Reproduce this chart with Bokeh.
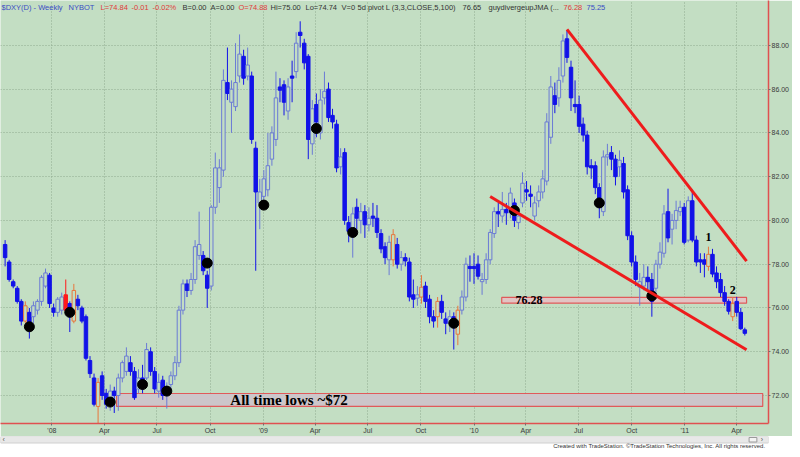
import pandas as pd
from bokeh.plotting import figure
from bokeh.layouts import column
from bokeh.models import FixedTicker, PrintfTickFormatter, Range1d, Label, ColumnDataSource
from bokeh.embed import file_html
from bokeh.resources import INLINE
from bokeh.core.properties import value

# ---------------- data (weekly $DXY) ----------------
first_week = "2007-10-12"
opens = [78.9, 78.1, 77.2, 76.9, 76.3, 75.4, 75.8, 75.6, 75.9, 76.3,
         77.0, 77.5, 76.0, 75.8, 75.9, 76.6, 76.2, 75.4, 76.4, 76.0,
         75.6, 73.6, 72.8, 71.5, 72.9, 72.1, 71.7, 72.2, 72.0, 72.8,
         73.1, 73.5, 73.1, 72.3, 72.8, 72.8, 74.0, 73.1, 72.2, 72.7,
         72.0, 72.5, 72.9, 73.5, 75.9, 77.1, 76.8, 77.3, 78.4, 78.4,
         77.5, 77.0, 80.6, 81.5, 82.3, 86.3, 85.4, 85.2, 86.6, 87.5,
         86.6, 86.6, 83.3, 80.8, 81.1, 81.4, 82.8, 83.7, 86.1, 86.2,
         85.0, 86.6, 86.8, 88.6, 88.1, 87.5, 83.5, 85.3, 84.0, 85.6,
         86.0, 84.8, 84.4, 82.45, 83.1, 79.9, 79.5, 80.6, 80.0, 80.4,
         79.8, 80.2, 80.1, 79.4, 78.8, 78.2, 78.2, 78.9, 78.0, 78.3,
         78.1, 76.6, 76.45, 76.5, 77.0, 76.4, 75.6, 75.6, 76.3, 75.5,
         75.3, 75.6, 74.8, 75.9, 76.5, 77.9, 77.9, 78.0, 77.2, 77.3,
         78.2, 79.4, 80.4, 80.2, 80.5, 80.35, 80.8, 79.9, 80.8, 81.4,
         81.2, 80.2, 80.9, 81.3, 81.8, 83.8, 85.7, 85.6, 86.6, 88.3,
         87.0, 85.3, 85.3, 84.4, 83.9, 82.5, 82.5, 81.5, 80.4, 82.9,
         83.1, 82.8, 82.45, 82.6, 81.4, 79.3, 78.1, 76.95, 77.0, 77.4,
         77.3, 76.9, 78.0, 78.5, 80.4, 79.6, 80.0, 80.4, 80.6, 79.1,
         80.9, 79.1, 78.2, 78.2, 77.9, 78.45, 77.6, 77.3, 76.7, 76.3,
         75.6, 76.3, 75.8, 75.0]
highs = [79.1, 78.2, 77.3, 77.0, 76.4, 76.3, 76.0, 76.3, 76.4, 77.5,
         77.8, 77.6, 76.2, 76.5, 76.7, 77.3, 76.3, 77.1, 76.6, 76.1,
         75.7, 73.8, 73.0, 72.8, 73.1, 72.3, 72.5, 72.4, 73.0, 73.6,
         74.2, 73.8, 73.3, 73.2, 73.4, 74.4, 74.2, 73.3, 73.0, 72.9,
         72.6, 73.1, 73.8, 76.1, 77.3, 77.3, 77.6, 79.1, 80.4, 78.6,
         77.7, 80.7, 83.1, 82.8, 86.9, 87.9, 86.4, 88.1, 88.5, 87.8,
         87.9, 86.8, 83.6, 81.9, 82.3, 84.0, 84.3, 86.8, 86.5, 86.4,
         86.5, 87.3, 88.6, 89.1, 88.3, 87.6, 85.5, 85.8, 86.0, 86.8,
         86.3, 85.1, 84.6, 83.3, 83.3, 80.2, 80.6, 81.0, 80.8, 80.7,
         80.6, 80.8, 80.7, 79.6, 79.0, 79.3, 79.6, 79.2, 78.6, 78.5,
         78.3, 77.3, 77.0, 77.5, 77.2, 76.6, 75.9, 76.5, 76.6, 75.8,
         75.9, 75.8, 76.1, 76.8, 78.3, 78.4, 78.5, 78.4, 77.6, 78.5,
         79.6, 80.6, 80.8, 81.3, 80.8, 81.5, 81.0, 80.5, 82.2, 81.8,
         81.6, 81.1, 81.6, 82.3, 84.9, 86.6, 86.3, 87.0, 88.5, 88.7,
         87.3, 86.4, 85.7, 84.7, 84.1, 82.8, 82.7, 81.7, 83.2, 83.5,
         83.4, 83.0, 83.2, 82.9, 81.6, 79.5, 78.4, 77.6, 78.0, 77.9,
         77.6, 78.2, 79.0, 80.7, 81.45, 80.3, 80.9, 80.9, 80.8, 81.1,
         81.4, 79.3, 78.5, 78.5, 78.8, 78.7, 77.9, 77.6, 77.0, 76.4,
         76.5, 76.5, 76.0, 75.1]
lows = [77.9, 77.2, 76.9, 76.2, 75.2, 75.3, 74.6, 75.3, 75.7, 76.1,
        76.9, 76.0, 75.6, 75.6, 75.7, 75.8, 74.9, 75.3, 75.9, 75.3,
        73.6, 72.8, 71.5, 70.7, 71.8, 71.4, 71.3, 71.2, 71.3, 72.6,
        72.9, 72.9, 71.8, 72.1, 72.1, 72.7, 72.9, 72.1, 71.9, 71.8,
        71.4, 72.2, 72.7, 73.3, 75.7, 76.5, 76.6, 77.1, 78.2, 77.5,
        76.0, 76.8, 80.3, 80.8, 82.0, 85.5, 84.0, 85.0, 86.3, 86.2,
        86.4, 83.5, 77.7, 79.6, 80.6, 81.1, 82.5, 83.4, 85.4, 84.8,
        84.6, 85.4, 86.5, 87.9, 86.9, 82.8, 83.0, 83.8, 83.7, 85.3,
        84.5, 84.2, 82.2, 82.1, 79.8, 79.0, 78.3, 79.6, 79.4, 79.2,
        79.5, 79.7, 79.2, 78.5, 78.0, 77.5, 77.9, 77.8, 77.7, 77.9,
        76.3, 76.0, 76.1, 76.2, 76.0, 75.3, 75.1, 75.1, 75.5, 74.8,
        74.9, 74.1, 74.3, 75.7, 76.3, 77.2, 77.1, 77.3, 76.6, 77.1,
        78.0, 79.2, 79.7, 79.9, 79.8, 80.1, 79.7, 79.6, 80.6, 80.9,
        80.6, 80.0, 80.6, 81.0, 81.6, 83.5, 84.9, 85.2, 86.3, 87.2,
        85.0, 84.9, 84.0, 83.6, 82.1, 81.9, 81.2, 80.1, 80.2, 82.5,
        82.3, 81.6, 82.0, 81.0, 79.1, 77.9, 77.0, 76.1, 76.8, 76.8,
        75.6, 76.6, 77.8, 78.3, 79.0, 78.9, 79.6, 80.2, 78.9, 79.0,
        79.0, 77.9, 77.6, 77.4, 77.7, 77.4, 76.9, 76.5, 76.1, 75.7,
        75.4, 75.6, 75.0, 74.74]
closes = [78.3, 77.3, 77.0, 76.3, 75.4, 76.1, 75.1, 76.1, 76.3, 77.4,
          77.6, 76.2, 75.8, 76.4, 76.5, 75.9, 75.6, 76.8, 76.1, 75.4,
          73.7, 73.0, 71.6, 72.6, 72.0, 71.6, 72.2, 72.0, 72.8, 73.5,
          73.8, 73.1, 71.9, 72.8, 72.4, 74.1, 73.1, 72.3, 72.6, 72.0,
          72.4, 72.9, 73.5, 75.9, 77.1, 76.8, 77.3, 78.8, 78.9, 77.7,
          76.9, 80.6, 82.4, 82.4, 86.4, 85.8, 86.0, 86.3, 87.6, 86.5,
          87.1, 83.7, 81.3, 81.3, 81.9, 82.5, 84.0, 85.6, 85.95, 85.4,
          86.1, 86.5, 88.1, 88.45, 87.2, 83.7, 85.1, 84.5, 85.5, 85.9,
          84.7, 84.5, 82.4, 82.9, 80.0, 79.5, 80.3, 80.1, 80.4, 79.8,
          80.1, 80.1, 79.45, 78.7, 78.3, 79.0, 79.35, 78.0, 78.3, 78.15,
          76.5, 76.4, 76.6, 76.95, 76.3, 75.6, 75.4, 76.3, 75.8, 75.3,
          75.6, 75.1, 75.9, 76.5, 78.0, 77.8, 77.8, 77.45, 77.3, 78.2,
          79.45, 80.4, 80.3, 80.5, 80.35, 81.25, 80.0, 80.2, 81.7, 81.3,
          81.1, 80.8, 81.3, 81.9, 84.5, 86.1, 85.3, 86.4, 88.2, 87.45,
          85.6, 85.2, 84.3, 83.9, 82.45, 82.4, 81.5, 80.6, 82.9, 83.0,
          82.8, 82.0, 82.75, 81.3, 79.3, 78.1, 77.3, 77.2, 77.4, 77.2,
          76.3, 78.0, 78.55, 80.3, 79.2, 80.0, 80.45, 80.6, 79.0, 80.9,
          79.1, 78.1, 78.1, 78.0, 78.45, 77.55, 77.2, 76.7, 76.3, 75.85,
          76.2, 75.8, 75.05, 74.84]
alert_bars = [5, 15, 17, 23, 96, 103, 107, 112, 174, 180]
pivot_bars = [6, 16, 26, 34, 40, 50, 64, 77, 86, 111, 126, 147, 160]
pivot_values = [75.14, 75.8, 71.7, 72.5, 72.2, 78.05, 80.7, 84.2, 79.45, 75.3, 80.45, 80.8, 76.55]

x_tick_dates = ["2008-01-01", "2008-04-01", "2008-07-01", "2008-10-01",
                "2009-01-01", "2009-04-01", "2009-07-01", "2009-10-01",
                "2010-01-01", "2010-04-01", "2010-07-01", "2010-10-01",
                "2011-01-01", "2011-04-01"]
x_tick_labels = ["'08", "Apr", "Jul", "Oct", "'09", "Apr", "Jul", "Oct",
                 "'10", "Apr", "Jul", "Oct", "'11", "Apr"]
y_ticks = [72, 74, 76, 78, 80, 82, 84, 86, 88]

upper_trend_dates = ["2010-06-11", "2011-04-18"]
upper_trend_values = [88.73, 78.14]
lower_trend_dates = ["2010-01-29", "2011-04-18"]
lower_trend_values = [81.09, 74.09]
level_dates = ["2010-02-18", "2011-04-18"]
level_band = [76.22, 76.48]
low_zone_dates = ["2008-04-22", "2011-05-16"]
low_zone_band = [71.5, 72.09]

header = [("$DXY(D) - Weekly", 1, "#3a4cc4"), ("NYBOT", 68, "#3a4cc4"),
          ("L=74.84", 100, "#e03a3a"), ("-0.01", 131, "#e03a3a"), ("-0.02%", 152, "#e03a3a"),
          ("B=0.00", 182, "#333333"), ("A=0.00", 210, "#333333"), ("O=74.88", 238, "#e03a3a"),
          ("Hi=75.00", 270, "#333333"), ("Lo=74.74", 305, "#333333"), ("V=0", 341, "#333333"),
          ("5d pivot L (3,3,CLOSE,5,100)", 357, "#333333"), ("76.65", 462, "#333333"),
          ("guydivergeupJMA (...", 488, "#333333"), ("76.28", 563, "#e03a3a"), ("75.25", 586, "#3a4cc4")]

# ---------------- styling ----------------
BG = "#c3dec3"
UP = "#6b7bd5"
DOWN = "#1212e8"
ALERT = "#e8763c"
ALERT_DOWN = "#ff1a1a"
TREND = "#ee1c1c"
DAY = 86400000

dates = pd.date_range(first_week, periods=len(closes), freq="7D")
fills, lines = [], []
for i, (o, c) in enumerate(zip(opens, closes)):
    up = c >= o
    if i in alert_bars:
        lines.append(ALERT if up else ALERT_DOWN)
        fills.append(BG if up else ALERT_DOWN)
    else:
        lines.append(UP if up else DOWN)
        fills.append(BG if up else DOWN)
src = ColumnDataSource(dict(date=dates, high=highs, low=lows,
                            top=[max(o, c) for o, c in zip(opens, closes)],
                            bot=[min(o, c) for o, c in zip(opens, closes)],
                            fill=fills, line=lines))

x0 = pd.Timestamp("2007-10-04").value // 10**6
x1 = pd.Timestamp("2011-05-26").value // 10**6
p = figure(width=792, height=436, x_axis_type="datetime", y_axis_location="right",
           x_range=Range1d(x0, x1), y_range=Range1d(70.72, 90.05),
           output_backend="svg", toolbar_location=None,
           min_border_left=0, min_border_top=0, min_border_right=22, min_border_bottom=11)
p.background_fill_color = BG
p.border_fill_color = BG
p.outline_line_color = None

tick_ms = [int(pd.Timestamp(d).value // 10**6) for d in x_tick_dates]
p.xaxis.ticker = FixedTicker(ticks=tick_ms)
p.xaxis.major_label_overrides = {t: l for t, l in zip(tick_ms, x_tick_labels)}
p.yaxis.ticker = FixedTicker(ticks=y_ticks)
p.yaxis.formatter = PrintfTickFormatter(format="%.2f")
for ax in (p.xaxis, p.yaxis):
    ax.axis_line_color = "#e05050"
    ax.axis_line_width = 1.5
    ax.major_tick_line_color = "#707070"
    ax.major_tick_in = 0
    ax.major_tick_out = 2
    ax.minor_tick_line_color = None
    ax.major_label_text_font_size = "7px"
    ax.major_label_text_font = "Liberation Sans"
    ax.major_label_text_color = "#3a3a3a"
    ax.major_label_standoff = 1
p.grid.grid_line_color = "#8eab8e"
p.grid.grid_line_dash = "1 2"
p.grid.grid_line_width = 1

# zones
p.quad(left=[pd.Timestamp(low_zone_dates[0])], right=[pd.Timestamp(low_zone_dates[1])],
       bottom=[low_zone_band[0]], top=[low_zone_band[1]],
       fill_color="#ccc6ca", line_color="#e05a5a", line_width=1.2)
p.quad(left=[pd.Timestamp(level_dates[0])], right=[pd.Timestamp(level_dates[1])],
       bottom=[level_band[0]], top=[level_band[1]],
       fill_color="#e2c4c4", line_color="#e05a5a", line_width=1.2)

# candles
p.segment(x0="date", y0="high", x1="date", y1="low", line_color="line", line_width=1, source=src)
p.vbar(x="date", width=6 * DAY, top="top", bottom="bot", fill_color="fill",
       line_color="line", line_width=1, source=src)

# pivots
p.scatter(x=[dates[i] for i in pivot_bars], y=pivot_values, size=10, color="black")

# trend lines
p.line(x=pd.to_datetime(upper_trend_dates), y=upper_trend_values, line_color=TREND, line_width=3)
p.line(x=pd.to_datetime(lower_trend_dates), y=lower_trend_values, line_color=TREND, line_width=3)

# annotations
serif = value("Liberation Serif")
p.text(x=[pd.Timestamp("2008-11-05")], y=[71.8], text=["All time lows ~$72"], text_font=serif,
       text_font_style="bold", text_font_size="15px", text_color="black",
       text_align="left", text_baseline="middle")
p.text(x=[pd.Timestamp("2010-03-14")], y=[76.36], text=["76.28"], text_font=serif,
       text_font_style="bold", text_font_size="12px", text_color="black",
       text_align="left", text_baseline="middle")
p.text(x=[pd.Timestamp("2011-02-11"), pd.Timestamp("2011-03-25")], y=[79.23, 76.82], text=["1", "2"],
       text_font=serif, text_font_style="bold", text_font_size="12px", text_color="black",
       text_align="center", text_baseline="middle")

for txt, xr, col in header:
    p.add_layout(Label(x=xr, y=89.74, x_units="screen", y_units="data", text=txt,
                       text_font="Liberation Sans", text_font_size="7.5px", text_color=col,
                       text_baseline="middle"))

# bottom strip (scroll bar + credit)
q = figure(width=792, height=13, x_range=Range1d(0, 792), y_range=Range1d(0, 13),
           x_axis_location=None, y_axis_location=None, output_backend="svg",
           toolbar_location=None, min_border=0)
q.grid.visible = False
q.outline_line_color = None
q.background_fill_color = "white"
q.border_fill_color = "white"
q.quad(left=[0], right=[792], bottom=[6.5], top=[13], fill_color="#e8e8e8", line_color="#d0d0d0")
q.quad(left=[772], right=[780], bottom=[7.5], top=[12], fill_color="#f4f4f4", line_color="#9a9a9a")
q.text(x=[2, 784], y=[9.8, 9.8], text=["\u2039", "\u203a"], text_font_size="7px",
       text_color="#555555", text_baseline="middle")
q.text(x=[789], y=[3.3], text=["Created with TradeStation. \u00a9TradeStation Technologies, Inc. All rights reserved."],
       text_font=value("Liberation Sans"), text_font_size="6px", text_color="#333333",
       text_align="right", text_baseline="middle")

layout = column(p, q, spacing=0)
open("out.html", "w").write(file_html(layout, INLINE))
